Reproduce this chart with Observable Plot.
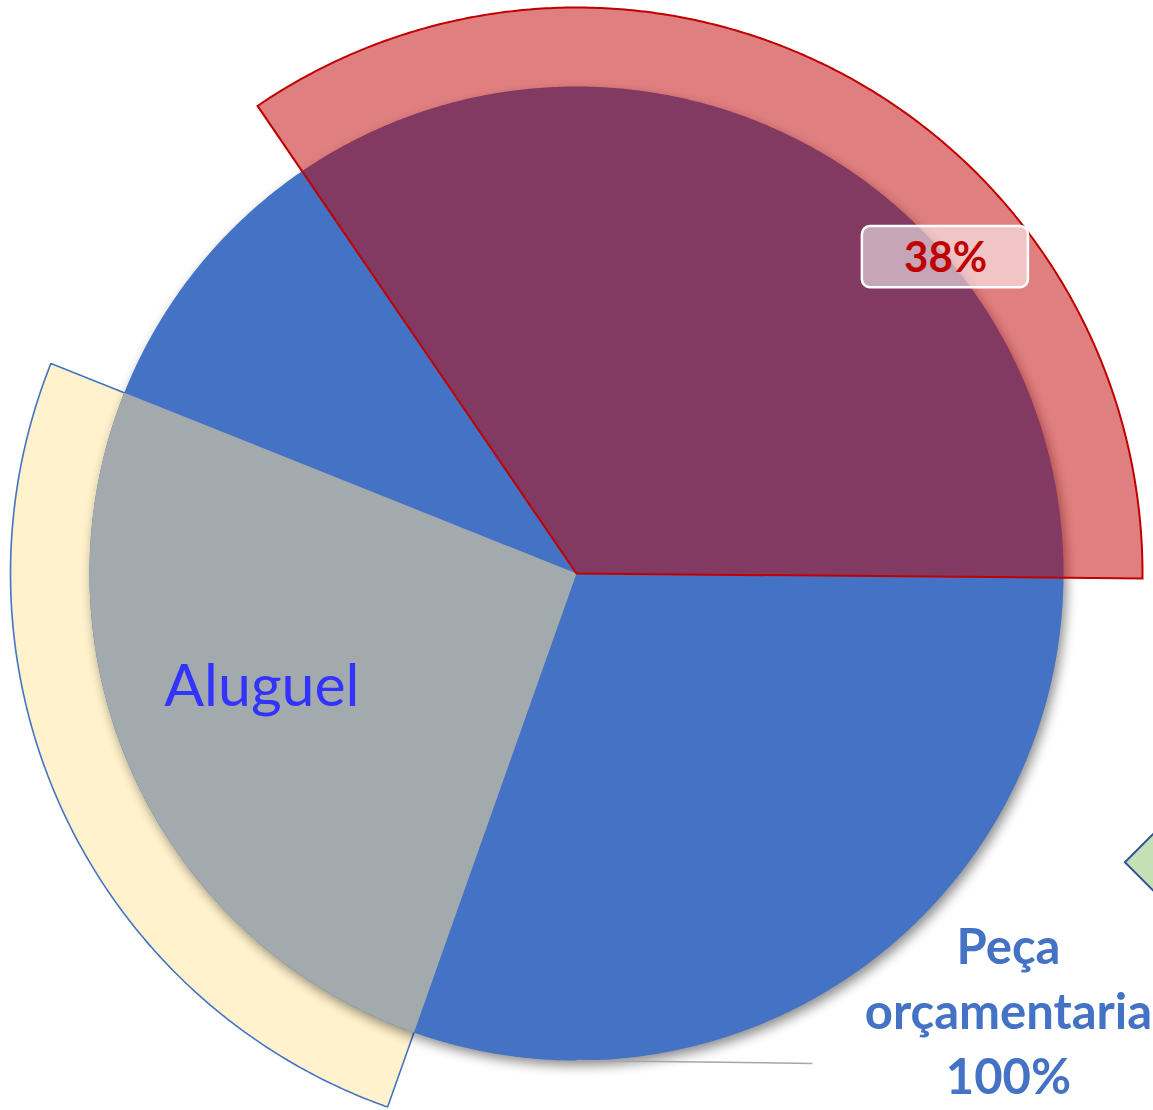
<!DOCTYPE html>
<html>
<head>
<meta charset="utf-8">
<script src="https://cdn.jsdelivr.net/npm/d3@7"></script>
<script src="https://cdn.jsdelivr.net/npm/@observablehq/plot@0.6"></script>
<style>
  html, body { margin: 0; padding: 0; background: #fff; overflow: hidden; }
  #chart svg { display: block; }
  .pie-base path { filter: drop-shadow(3px 5px 6px rgba(0,0,0,0.45)); }
</style>
</head>
<body>
<div id="chart"></div>
<script>
// ---- Data ----
// Inner pie: a single whole series
const pieCategories = ["Peça orçamentaria"];
const pieValues = [100];
const pieLabelText = "Peça\norçamentaria\n100%";

// Outer (exploded) ring: shares of the circle, clockwise from the start angle
const ringCategories = ["38%", "Restante A", "Aluguel", "Restante B"];
const ringShares = [34.67, 30.28, 25.64, 9.42];
const ringStartDeg = -34.3;
const redLabelText = "38%";
const yellowLabelText = "Aluguel";

// ---- Geometry helpers (unit = pie radius) ----
const rad = d => d * Math.PI / 180;
function wedge(a0, a1, r, key) {
  const pts = [{x: 0, y: 0, key}];
  const n = Math.max(2, Math.ceil(Math.abs(a1 - a0) / rad(0.4)));
  for (let i = 0; i <= n; i++) {
    const a = a0 + (a1 - a0) * i / n;
    pts.push({x: r * Math.sin(a), y: r * Math.cos(a), key});
  }
  return pts;
}

const pieArcs = d3.pie().sort(null)(pieValues);
const ringArcs = d3.pie().sort(null)
  .startAngle(rad(ringStartDeg)).endAngle(rad(ringStartDeg) + 2 * Math.PI)(ringShares);

const R = 1, ROUT = 1.1622;
const pieData = pieArcs.flatMap((a, i) => wedge(a.startAngle, a.endAngle, R, pieCategories[i]));
const redArc = ringArcs[0], yellowArc = ringArcs[2];
const redData = wedge(redArc.startAngle, redArc.endAngle, ROUT, ringCategories[0]);
const yellowOuter = wedge(yellowArc.startAngle, yellowArc.endAngle, ROUT, ringCategories[2]);
const yellowInner = wedge(yellowArc.startAngle, yellowArc.endAngle, R, ringCategories[2]);

const W = 1153, H = 1110, cx = 576, cy = 573, PX = 487;

const chart = Plot.plot({
  width: W, height: H,
  margin: 0,
  x: {domain: [-cx / PX, (W - cx) / PX], axis: null},
  y: {domain: [-(H - cy) / PX, cy / PX], axis: null},
  style: {background: "white", fontFamily: "Lato, 'Open Sans', sans-serif"},
  marks: [
    // yellow exploded slice (behind the pie)
    Plot.line(yellowOuter, {x: "x", y: "y", z: "key", curve: "linear-closed",
      fill: "#FFF2CC", stroke: "#4472C4", strokeWidth: 1.6, strokeLinejoin: "miter"}),
    // blue whole pie with shadow
    Plot.line(pieData, {x: "x", y: "y", z: "key", curve: "linear-closed",
      fill: "#4472C4", stroke: "none", className: "pie-base"}),
    // Aluguel part inside the pie
    Plot.line(yellowInner, {x: "x", y: "y", z: "key", curve: "linear-closed",
      fill: "#A2AAAD", stroke: "none"}),
    // red translucent slice
    Plot.line(redData, {x: "x", y: "y", z: "key", curve: "linear-closed",
      fill: "#C00000", fillOpacity: 0.5, stroke: "#C00000", strokeWidth: 2,
      strokeLinejoin: "miter", strokeMiterlimit: 10}),
    // leader line of the pie label
    Plot.link([pieCategories[0]], {x1: 0, y1: -R, x2: 0.4846, y2: -1.006,
      stroke: "#A6A6A6", strokeWidth: 1.5}),
    // green marker (clipped at right)
    Plot.dot([ringCategories[0]], {x: 1.199, y: -0.593, symbol: "diamond2", r: 32,
      fill: "#C5E0B4", stroke: "#2F5597", strokeWidth: 2}),
    // 38% label box
    Plot.rect([redLabelText], {x1: 0.587, x2: 0.928, y1: 0.587, y2: 0.7125,
      fill: "white", fillOpacity: 0.55, stroke: "white", strokeWidth: 2.5, rx: 8}),
    Plot.text([redLabelText], {x: 0.758, y: 0.647, text: d => d,
      fill: "#C00000", fontSize: 42, fontWeight: "bold"}),
    Plot.text([yellowLabelText], {x: -0.646, y: -0.234, text: d => d,
      fill: "#3333FF", fontSize: 59}),
    Plot.text([pieLabelText], {x: 0.887, y: -0.893, text: d => d,
      fill: "#4472C4", fontSize: 49, fontWeight: "bold", lineHeight: 1.33})
  ]
});
document.getElementById("chart").append(chart);
</script>
</body>
</html>
